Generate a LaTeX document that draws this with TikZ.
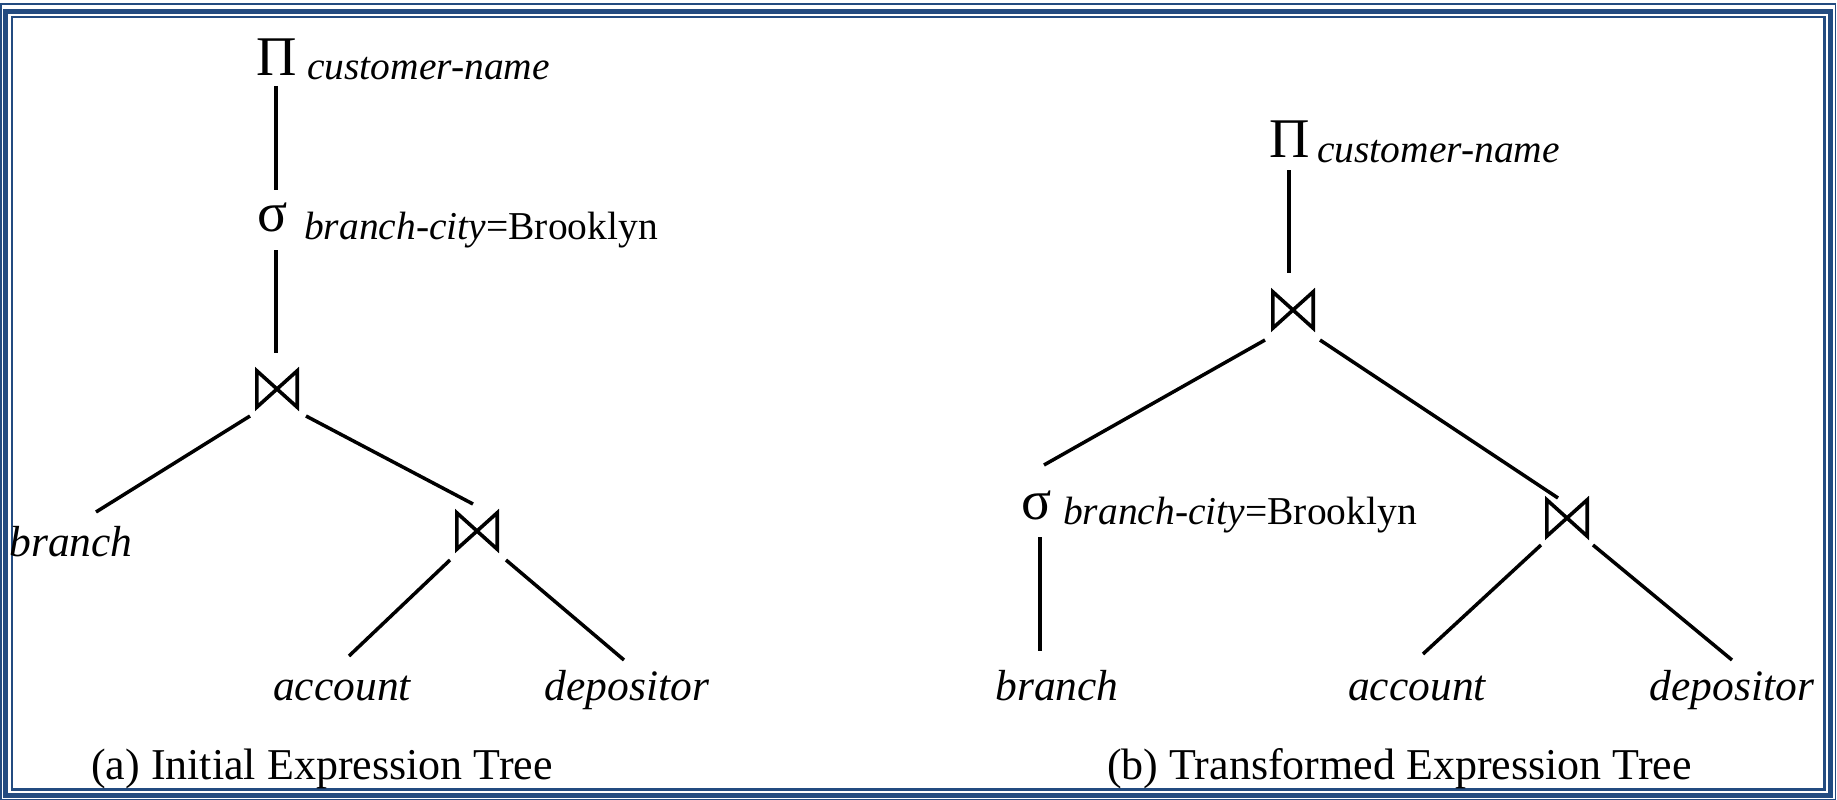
\documentclass[tikz,border=0pt]{standalone}
\usepackage{fontspec}
\setmainfont{Liberation Serif}
\definecolor{framecol}{RGB}{35,75,128}
\newcommand\drawbowtie[1]{\draw[joinline] (#1.north west) -- (#1.south west) -- (#1.north east) -- (#1.south east) -- cycle;}
\begin{document}
\begin{tikzpicture}[x=1pt,y=-1pt,
  op/.style={inner sep=0pt, anchor=base, font=\fontsize{56}{60}\selectfont},
  sub/.style={inner sep=0pt, anchor=base west, font=\fontsize{39.5}{42}\selectfont},
  leaf/.style={inner sep=0pt, anchor=base, font=\fontsize{43.5}{46}\selectfont\itshape},
  captxt/.style={inner sep=0pt, anchor=base west, font=\fontsize{44}{48}\selectfont},
  joinbox/.style={inner sep=0pt, minimum width=40pt, minimum height=36pt},
  treeline/.style={line width=3.5pt},
  joinline/.style={line width=3.6pt, line join=miter}]
\useasboundingbox (0,0) rectangle (1837,800);
% frame
\draw[framecol, line width=1.6pt] (1.2,3.8) rectangle (1835.6,799.4);
\draw[framecol, line width=5pt] (5.6,11.5) rectangle (1830.6,795.5);
\draw[framecol, line width=2.4pt] (11.8,17.2) rectangle (1824.6,789.6);

% ---------- left tree ----------
\node[op] (pi1) at (277,76) {Π};
\node[sub] (pi1s) at (307,80) {\itshape customer-name};
\node[op] (sg1) at (273,231) {σ};
\node[sub] (sg1s) at (304,239) {\textit{branch-city}=Brooklyn};
\node[joinbox] (j1) at (277,389) {};
\node[leaf] (br1) at (71,556) {branch};
\node[joinbox] (j2) at (477,531) {};
\node[leaf] (ac1) at (342,700) {account};
\node[leaf] (dp1) at (627,700) {depositor};
\drawbowtie{j1}
\drawbowtie{j2}
\draw[treeline] ([shift={(-1,10)}]pi1.base) -- ([shift={(-1,114)}]pi1.base);
\draw[treeline] ([shift={(3,19)}]sg1.base) -- ([shift={(-1,-36)}]j1.center);
\draw[treeline] ([shift={(-27,27)}]j1.center) -- ([shift={(25,-44)}]br1.base);
\draw[treeline] ([shift={(29,27)}]j1.center) -- ([shift={(-4,-27)}]j2.center);
\draw[treeline] ([shift={(-27,29)}]j2.center) -- ([shift={(7,-44)}]ac1.base);
\draw[treeline] ([shift={(29,29)}]j2.center) -- ([shift={(-3,-40)}]dp1.base);
\node[captxt] (capa) at (91,779) {(a) Initial Expression Tree};

% ---------- right tree ----------
\node[op] (pi2) at (1290,157) {Π};
\node[sub] (pi2s) at (1317,162) {\itshape customer-name};
\node[joinbox] (j3) at (1293,310) {};
\node[op] (sg2) at (1037,519) {σ};
\node[sub] (sg2s) at (1063,524) {\textit{branch-city}=Brooklyn};
\node[leaf] (br2) at (1057,700) {branch};
\node[joinbox] (j4) at (1567,518) {};
\node[leaf] (ac2) at (1417,700) {account};
\node[leaf] (dp2) at (1732,700) {depositor};
\drawbowtie{j3}
\drawbowtie{j4}
\draw[treeline] ([shift={(-1,13)}]pi2.base) -- ([shift={(-4,-37)}]j3.center);
\draw[treeline] ([shift={(-28,30)}]j3.center) -- ([shift={(7,-54)}]sg2.base);
\draw[treeline] ([shift={(27,30)}]j3.center) -- ([shift={(-9,-20)}]j4.center);
\draw[treeline] ([shift={(3,18)}]sg2.base) -- ([shift={(-17,-49)}]br2.base);
\draw[treeline] ([shift={(-26,27)}]j4.center) -- ([shift={(6,-46)}]ac2.base);
\draw[treeline] ([shift={(26,27)}]j4.center) -- ([shift={(0,-40)}]dp2.base);
\node[captxt] (capb) at (1107,779) {(b) Transformed Expression Tree};
\end{tikzpicture}
\end{document}
